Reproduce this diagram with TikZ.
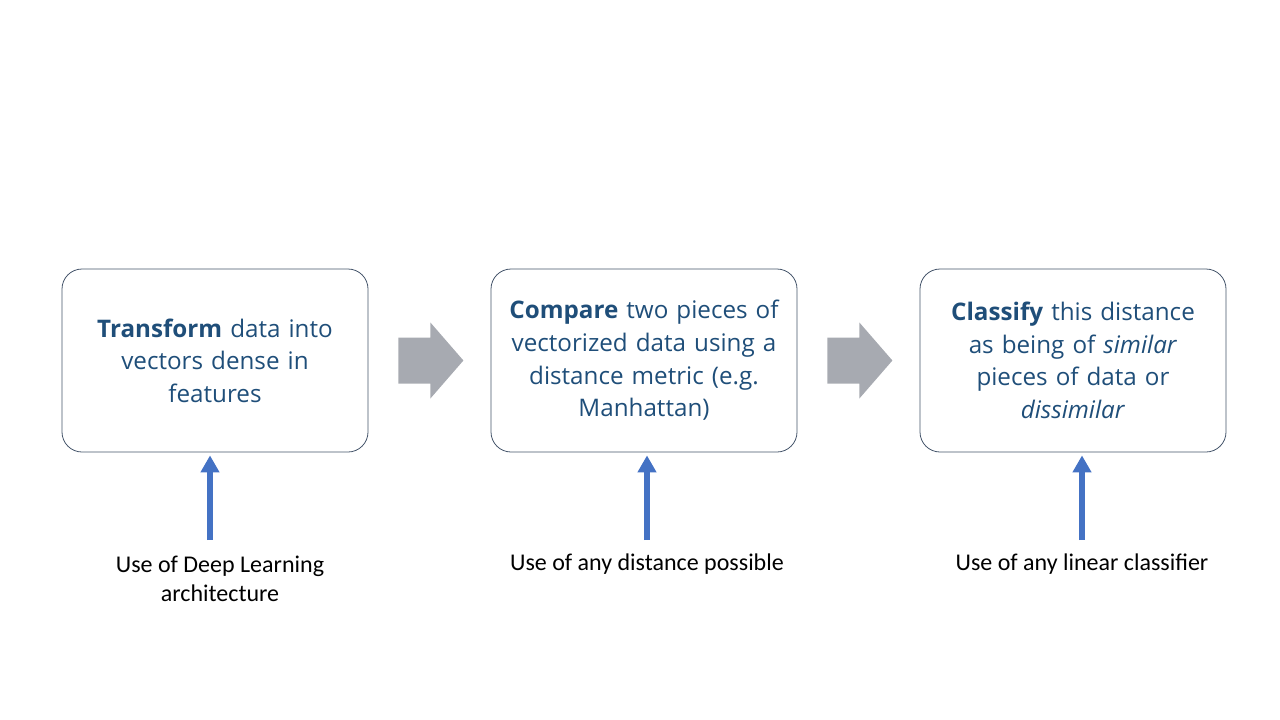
\documentclass[tikz,border=0pt]{standalone}
\usepackage{fontspec}
\setmainfont{Open Sans}
\newfontfamily\labelfont{Carlito}
\usetikzlibrary{arrows.meta,calc}
\definecolor{boxtext}{HTML}{1F4E79}
\definecolor{boxline}{HTML}{44546A}
\definecolor{flowgray}{HTML}{A7AAB1}
\definecolor{upblue}{HTML}{4472C4}
\begin{document}
\begin{tikzpicture}[x=1pt,y=-1pt,
  stagebox/.style={draw=boxline, line width=0.8pt, rounded corners=20pt, minimum width=306pt, minimum height=183pt, text width=296pt, align=center, text=boxtext, font=\fontsize{24.2}{32.6}\selectfont, inner sep=0pt},
  notelabel/.style={align=center, font=\labelfont\fontsize{24}{29}\selectfont, text=black, inner sep=0pt},
  uparrow/.style={draw=upblue, line width=5.5pt, -{Triangle[width=18pt,length=17pt]}, shorten >=3pt},
  flowarrow/.style={fill=flowgray}]
\useasboundingbox (0,0) rectangle (1280,720);
\node[stagebox] (b1) at (215,360.5) {\textbf{Transform} data into\\vectors dense in\\features};
\node[stagebox] (b2) at (644,360.5) {\textbf{Compare} two pieces of\\vectorized data using a\\distance metric (e.g.\\Manhattan)};
\node[stagebox] (b3) at (1073,360.5) {\textbf{Classify} this distance\\as being of \textit{similar}\\pieces of data or\\\textit{dissimilar}};
% gray flow arrows
\fill[flowarrow] ($(b1.east)+(30,-23)$) -- ++(32,0) -- ++(0,-15) -- ++(33,38) -- ++(-33,38) -- ++(0,-15) -- ++(-32,0) -- cycle;
\fill[flowarrow] ($(b2.east)+(30,-23)$) -- ++(32,0) -- ++(0,-15) -- ++(33,38) -- ++(-33,38) -- ++(0,-15) -- ++(-32,0) -- cycle;
% labels
\node[notelabel] (l1) at (220,579) {Use of Deep Learning\\architecture};
\node[notelabel] (l2) at (647,564.5) {Use of any distance possible};
\node[notelabel] (l3) at (1082,564.5) {Use of any linear classifier};
\coordinate (s1) at (210,540);
\coordinate (s2) at (647,540);
\coordinate (s3) at (1082,540);
\draw[uparrow] (s1) -- (s1 |- b1.south);
\draw[uparrow] (s2) -- (s2 |- b2.south);
\draw[uparrow] (s3) -- (s3 |- b3.south);
\end{tikzpicture}
\end{document}
